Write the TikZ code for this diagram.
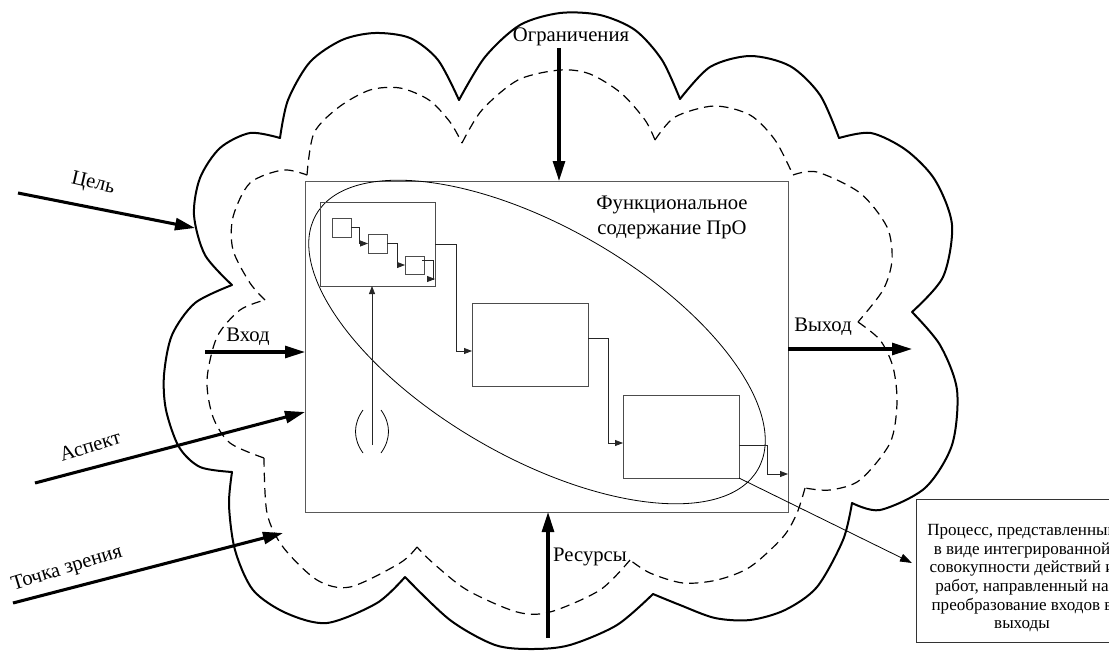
\documentclass[tikz,border=0pt]{standalone}
\usepackage{fontspec}
\setmainfont{Liberation Serif}
\usetikzlibrary{arrows.meta,calc}
\begin{document}
\begin{tikzpicture}[x=0.75pt,y=-0.75pt,
  cloudline/.style={line width=1.5pt, line cap=round, line join=round},
  cloudin/.style={line width=0.9pt, dash pattern=on 7pt off 4.5pt},
  frame/.style={draw=black!65, line width=0.75pt, inner sep=0pt, outer sep=0pt},
  boxn/.style={draw=black!70, line width=0.7pt, inner sep=0pt, outer sep=0pt},
  bigarrow/.style={-{Triangle[length=15pt,width=9pt]}, line width=2.3pt},
  smallarrow/.style={-{Triangle[length=6pt,width=4.5pt]}, line width=0.6pt, draw=black!85},
  lbl/.style={font=\fontsize{15.5}{18.75}\selectfont, inner sep=0pt}]
\useasboundingbox (0,0) rectangle (1109,650);
\clip (0,0) rectangle (1109,650);

% outer cloud
\draw[cloudline] plot[smooth] coordinates {(280,138) (288,100) (310,62) (342,40) (375,33) (410,38) (438,60) (459,100)};
\draw[cloudline] plot[smooth] coordinates {(459,100) (485,57) (520,25) (560,13) (600,15) (635,30) (662,60) (680,99)};
\draw[cloudline] plot[smooth] coordinates {(680,99) (710,67) (750,56) (790,66) (820,95) (839,138)};
\draw[cloudline] plot[smooth] coordinates {(839,138) (871,133) (906,150) (935,180) (952,225) (943,277) (912,312)};
\draw[cloudline] plot[smooth] coordinates {(912,312) (940,345) (957,390) (952,445) (925,488) (880,510) (852,503)};
\draw[cloudline] plot[smooth] coordinates {(852,503) (843,540) (817,587) (785,610) (750,620) (715,618) (680,605) (653,594)};
\draw[cloudline] plot[smooth] coordinates {(653,594) (617,625) (570,645) (533,649) (495,645) (450,620) (405,577)};
\draw[cloudline] plot[smooth] coordinates {(405,577) (377,603) (327,623) (286,613) (253,590) (235,550) (229,505) (232,472)};
\draw[cloudline] plot[smooth] coordinates {(232,472) (200,467) (179,447) (166,410) (164,375) (172,335) (195,303) (232,285)};
\draw[cloudline] plot[smooth] coordinates {(232,285) (205,255) (194,215) (200,178) (220,148) (250,133) (280,138)};

% inner dashed cloud
\draw[cloudin] plot[smooth] coordinates {(307,175) (314,133) (339,107) (370,90) (400,88) (429,100) (450,122) (462,143)};
\draw[cloudin] plot[smooth] coordinates {(462,143) (482,110) (518,80) (560,70) (590,74) (621,93) (645,120) (655,140)};
\draw[cloudin] plot[smooth] coordinates {(655,140) (675,117) (714,106) (750,115) (775,140) (793,175)};
\draw[cloudin] plot[smooth] coordinates {(793,175) (817,172) (860,193) (887,227) (892,260) (883,290) (858,322)};
\draw[cloudin] plot[smooth] coordinates {(858,322) (880,340) (893,367) (897,403) (890,443) (860,480) (830,490) (805,488)};
\draw[cloudin] plot[smooth] coordinates {(805,488) (797,513) (783,537) (750,567) (717,580) (683,583) (650,573) (630,560)};
\draw[cloudin] plot[smooth] coordinates {(630,560) (600,590) (550,612) (517,612) (467,590) (433,563) (417,547)};
\draw[cloudin] plot[smooth] coordinates {(417,547) (400,563) (350,587) (317,580) (283,547) (267,513) (264,458)};
\draw[cloudin] plot[smooth] coordinates {(264,458) (230,443) (213,417) (207,380) (217,337) (240,310) (265,300)};
\draw[cloudin] plot[smooth] coordinates {(265,300) (250,283) (233,250) (233,217) (250,183) (283,170) (307,175)};

% main frame and inner boxes
\node[frame, minimum width=362.25pt, minimum height=248.25pt] (main) at (546.5,346.5) {};
\draw[line width=0.6pt, rotate around={-30:(537,342)}] (537,342) ellipse [x radius=255, y radius=115];
\node[boxn, minimum width=86.25pt, minimum height=63pt] (b1) at (377.5,244) {};
\node[boxn, minimum width=87pt, minimum height=62.25pt] (b2) at (530,344.5) {};
\node[boxn, minimum width=87pt, minimum height=62.25pt] (b3) at (681,436.5) {};
\node[boxn, minimum width=14.25pt, minimum height=14.25pt] (s1) at (341.5,227.5) {};
\node[boxn, minimum width=14.25pt, minimum height=14.25pt] (s2) at (377.5,243.5) {};
\node[boxn, minimum width=14.25pt, minimum height=13.5pt] (s3) at (414.5,265) {};

% inner connectors
\coordinate (b1o) at (435,279);
\draw[smallarrow] (s1.east) -- ++(8,0) |- (s2.west);
\draw[smallarrow] (s2.east) -- ++(10,0) |- (s3.west);
\draw[smallarrow] ($(s3.east)+(-2,-5)$) -- ++(11,0) |- (b1o);
\draw[smallarrow] (b1.east) -- ++(21,0) |- ($(b2.west)+(0,6.5)$);
\draw[smallarrow] ($(b2.east)+(0,-6.5)$) -- ++(20,0) |- ($(b3.west)+(0,6.5)$);
\draw[smallarrow] ($(b3.east)+(0,8.5)$) -- ++(28,0) |- (main.east |- 0,474);
\coordinate (tun) at (372,445);
\draw[smallarrow] (tun) -- (tun |- b1.south);
\draw[line width=0.6pt] (363,410) .. controls (353,424) and (353,439) .. (363,453);
\draw[line width=0.6pt] (381,410) .. controls (391,424) and (391,439) .. (381,453);

% thick arrows
\coordinate (ogr0) at (559,48);
\draw[bigarrow] (ogr0) -- (ogr0 |- main.north);
\coordinate (in0) at (205,352);
\draw[bigarrow] (in0) -- (in0 -| main.west);
\coordinate (goal0) at (18,193);
\coordinate (goal1) at (195,228);
\draw[bigarrow] (goal0) -- (goal1);
\coordinate (asp0) at (35,483);
\draw[bigarrow] (asp0) -- (main.west |- 0,412);
\coordinate (vp0) at (13,603);
\coordinate (vp1) at (283,533);
\draw[bigarrow] (vp0) -- (vp1);
\coordinate (res0) at (548,638);
\draw[bigarrow] (res0) -- (res0 |- main.south);
\coordinate (out1) at (912,349);
\draw[bigarrow] (main.east |- out1) -- (out1);

% note box
\node[boxn, draw=black!80, fill=white, minimum width=159pt, minimum height=107.25pt] (tb) at (1022,570.5) {};
\node[align=center, inner sep=0pt, font=\fontsize{12.8}{13.9}\selectfont] (tbt) at (1022,578) {Процесс, представленный\\в виде интегрированной\\совокупности действий и\\работ, направленный на\\преобразование входов в\\выходы};
\coordinate (tbin) at ($(tb.west)+(-4,-7.5)$);
\draw[-{Triangle[length=9pt,width=6pt]}, line width=0.6pt] (b3.south east) -- (tbin);

% labels
\node[lbl] (lOgr) at (571,37) {Ограничения};
\node[lbl, align=center] (lFun) at (672,217.5) {Функциональное\\содержание ПрО};
\node[lbl, rotate=-13] (lGoal) at (93,184) {Цель};
\node[lbl] (lIn) at (248,337) {Вход};
\node[lbl, rotate=17] (lAsp) at (90,446) {Аспект};
\node[lbl, rotate=17] (lVp) at (67,569) {Точка зрения};
\node[lbl] (lRes) at (590,557) {Ресурсы};
\node[lbl] (lOut) at (823,327) {Выход};
\end{tikzpicture}
\end{document}
